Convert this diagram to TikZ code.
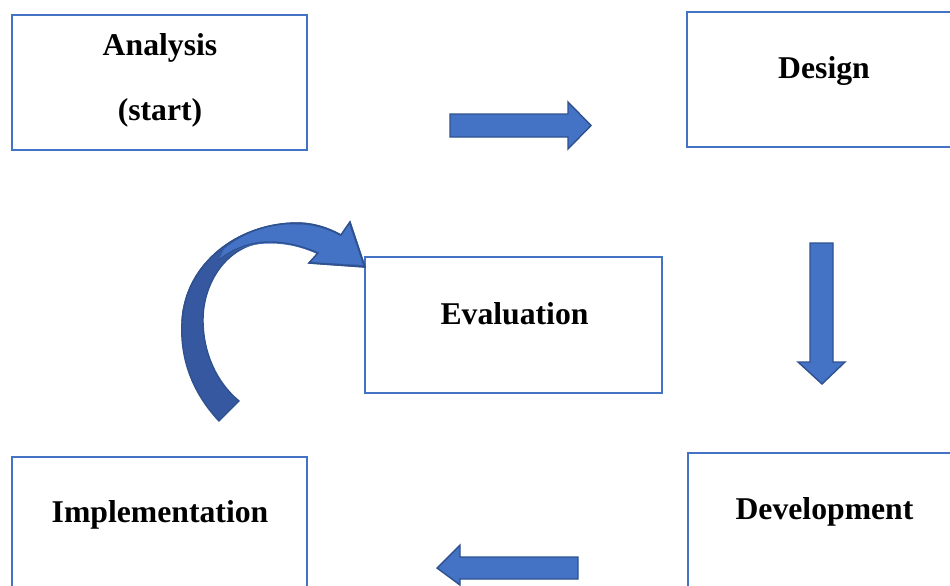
\documentclass[tikz,border=0pt]{standalone}
\usepackage{fontspec}
\setmainfont{Liberation Serif}
\definecolor{boxblue}{HTML}{4472C4}
\definecolor{edgeblue}{HTML}{2F528F}
\definecolor{darkfill}{HTML}{3558A0}
\tikzset{
  stagebox/.style={draw=boxblue, line width=2pt, fill=white, inner sep=0pt},
  stagetext/.style={anchor=base, inner sep=0pt, font=\fontsize{31.7}{38}\selectfont\bfseries},
  blockarrow/.style={fill=boxblue, draw=edgeblue, line width=1.4pt, line join=miter},
}
\begin{document}
\begin{tikzpicture}[x=1pt, y=-1pt]
\useasboundingbox (0,0) rectangle (950,586);
\fill[white] (0,0) rectangle (950,586);
\clip (0,0) rectangle (950,586);

% boxes
\node[stagebox, minimum width=295pt, minimum height=135pt] (analysis) at (159.5,82.5) {};
\node[stagebox, minimum width=300pt, minimum height=135pt] (design) at (837,79.5) {};
\node[stagebox, minimum width=297pt, minimum height=136pt] (evaluation) at (513.5,325) {};
\node[stagebox, minimum width=295pt, minimum height=160pt] (implementation) at (159.5,537) {};
\node[stagebox, minimum width=300pt, minimum height=160pt] (development) at (838,533) {};

% texts
\node[stagetext] (tanalysis) at (160,56) {Analysis};
\node[stagetext] (tstart) at (160,120) {(start)};
\node[stagetext] (tdesign) at (824,78) {Design};
\node[stagetext] (tevaluation) at (514.5,324) {Evaluation};
\node[stagetext] (timplementation) at (160,522) {Implementation};
\node[stagetext] (tdevelopment) at (824.5,519) {Development};

% right arrow
\draw[blockarrow] (450,114) -- (568,114) -- (568,102) -- (591,125.5) -- (568,149) -- (568,137) -- (450,137) -- cycle;
% down arrow
\draw[blockarrow] (810,243) -- (833,243) -- (833,362) -- (845,362) -- (822,384) -- (798,362) -- (810,362) -- cycle;
% left arrow
\draw[blockarrow] (578,557) -- (460,557) -- (460,545) -- (437,568) -- (460,585) -- (460,579) -- (578,579) -- cycle;

% curved arrow
\draw[fill=darkfill, draw=edgeblue, line width=1.4pt, line join=miter]
  (219,421) .. controls (190,390) and (180,355) .. (182,322)
  .. controls (185,262) and (240,223) .. (297,223)
  .. controls (315,223) and (330,229) .. (341,235)
  -- (350,222) -- (365,267) -- (309,263) -- (318,253)
  .. controls (302,246) and (286,242) .. (270,242)
  .. controls (230,242) and (203,280) .. (203,320)
  .. controls (203,352) and (216,382) .. (239,401) -- cycle;
\fill[boxblue]
  (224,249) .. controls (245,232) and (270,223) .. (297,224.5)
  .. controls (315,224.5) and (330,230) .. (340,236)
  -- (349,224) -- (363,265) -- (311,262) -- (317,254)
  .. controls (302,247) and (286,243.5) .. (270,243.5)
  .. controls (250,243.5) and (232,250) .. (218,262) -- cycle;
\draw[edgeblue, line width=1.4pt]
  (182,322) .. controls (185,262) and (240,223) .. (297,223)
  .. controls (315,223) and (330,229) .. (341,235)
  -- (350,222) -- (365,267) -- (309,263) -- (318,253)
  .. controls (302,246) and (286,242) .. (270,242)
  .. controls (250,242) and (232,249) .. (218,261);
\end{tikzpicture}
\end{document}
